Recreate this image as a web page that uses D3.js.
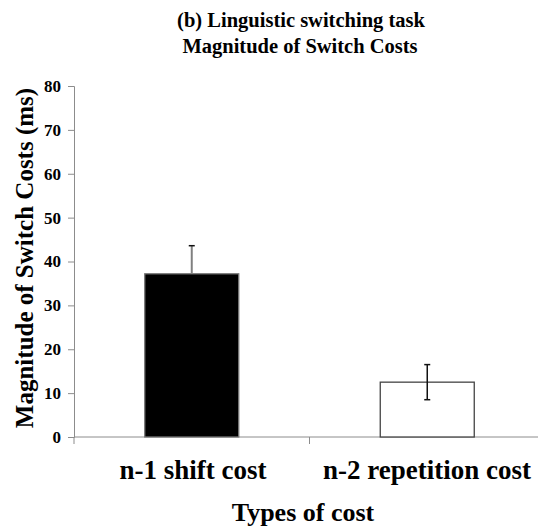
<!DOCTYPE html>
<html>
<head>
<meta charset="utf-8">
<script src="https://cdn.jsdelivr.net/npm/d3@7"></script>
<style>
  html, body { margin: 0; padding: 0; background: #fff; }
  text { font-family: "Liberation Serif", "Times New Roman", serif; font-weight: bold; fill: #000; }
</style>
</head>
<body>
<svg id="chart" width="538" height="532"></svg>
<script>
// Switch cost magnitudes (ms) with standard errors
const categories = ["n-1 shift cost", "n-2 repetition cost"];
const values = [37.2, 12.5];
const errors = [6.4, 4.0];
const fills = ["#000000", "#ffffff"];
const yTicks = [0, 10, 20, 30, 40, 50, 60, 70, 80];

const svg = d3.select("#chart");

const x = d3.scaleBand().domain(categories).range([74, 545]).paddingInner(0).paddingOuter(0);
const y = d3.scaleLinear().domain([0, 80]).range([437, 86]);

// Titles
svg.append("text").attr("x", 301).attr("y", 27).attr("text-anchor", "middle")
  .style("font-size", "20.5px").text("(b) Linguistic switching task");
svg.append("text").attr("x", 300).attr("y", 53).attr("text-anchor", "middle")
  .style("font-size", "20.5px").text("Magnitude of Switch Costs");

// Y axis
const yAxis = svg.append("g").attr("transform", "translate(74,0)")
  .call(d3.axisLeft(y).tickValues(yTicks).tickSize(6).tickPadding(7));
yAxis.select(".domain").attr("stroke", "#8c8c8c");
yAxis.selectAll(".tick line").attr("stroke", "#8c8c8c");
yAxis.selectAll(".tick text").style("font-size", "17px")
  .style("font-family", "'Liberation Serif', serif").style("font-weight", "bold");

// X axis with tick marks at band boundaries
const xAxisG = svg.append("g");
xAxisG.append("line").attr("x1", 74).attr("x2", 545).attr("y1", y(0)).attr("y2", y(0))
  .attr("stroke", "#8c8c8c").attr("stroke-width", 1);
const boundaries = [x(categories[0]), x(categories[1])];
xAxisG.selectAll("line.bt").data(boundaries).enter().append("line").attr("class", "bt")
  .attr("x1", d => d).attr("x2", d => d).attr("y1", y(0)).attr("y2", y(0) + 7)
  .attr("stroke", "#8c8c8c");

// Bars
const barW = 94;
svg.selectAll("rect.bar").data(categories).enter().append("rect").attr("class", "bar")
  .attr("x", d => x(d) + x.bandwidth() / 2 - barW / 2)
  .attr("width", barW)
  .attr("y", (d, i) => y(values[i]))
  .attr("height", (d, i) => y(0) - y(values[i]))
  .attr("fill", (d, i) => fills[i])
  .attr("stroke", (d, i) => i === 0 ? "#777" : "#444")
  .attr("stroke-width", 1.3);

// Error bars
const capW = 6;
categories.forEach((c, i) => {
  const cx = x(c) + x.bandwidth() / 2;
  const top = y(values[i] + errors[i]);
  const bot = y(values[i] - errors[i]);
  const col = i === 0 ? "#808080" : "#111";
  svg.append("line").attr("x1", cx).attr("x2", cx).attr("y1", top).attr("y2", i === 0 ? y(values[i]) : bot)
    .attr("stroke", col).attr("stroke-width", i === 0 ? 2 : 1.5);
  svg.append("line").attr("x1", cx - capW / 2).attr("x2", cx + capW / 2).attr("y1", top).attr("y2", top)
    .attr("stroke", "#111").attr("stroke-width", 1.5);
  if (i !== 0) {
    svg.append("line").attr("x1", cx - capW / 2).attr("x2", cx + capW / 2).attr("y1", bot).attr("y2", bot)
      .attr("stroke", "#111").attr("stroke-width", 1.5);
  }
});

// Category labels
svg.selectAll("text.cat").data(categories).enter().append("text").attr("class", "cat")
  .attr("x", (d, i) => i === 0 ? 193 : 427)
  .attr("y", 479).attr("text-anchor", "middle")
  .style("font-size", "27px").text(d => d);

// Axis titles
svg.append("text").attr("x", 303).attr("y", 521).attr("text-anchor", "middle")
  .style("font-size", "26px").text("Types of cost");
svg.append("text").attr("transform", "translate(33,258) rotate(-90)").attr("text-anchor", "middle")
  .style("font-size", "25px").text("Magnitude of Switch Costs (ms)");
</script>
</body>
</html>
